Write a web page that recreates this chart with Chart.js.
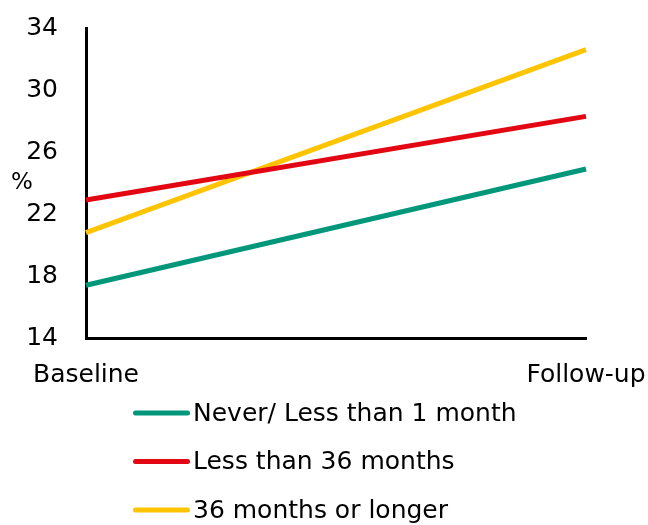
<!DOCTYPE html>
<html>
<head>
<meta charset="utf-8">
<script src="https://cdn.jsdelivr.net/npm/chart.js@4.4.0/dist/chart.umd.min.js"></script>
<style>
  html, body { margin: 0; padding: 0; background: #fff; }
  #wrap { width: 648px; height: 525px; }
</style>
</head>
<body>
<div id="wrap"><canvas id="c" width="648" height="525"></canvas></div>
<script>
// Time points on the x axis
const categories = ['Baseline', 'Follow-up'];

// Series names and values (%)
const seriesNames = ['Never/ Less than 1 month', 'Less than 36 months', '36 months or longer'];
const neverLess1 = [17.4, 24.9];
const less36 = [22.9, 28.3];
const over36 = [20.8, 32.6];

// Y axis ticks and unit
const yTicks = [14, 18, 22, 26, 30, 34];
const yUnit = '%';

const seriesColors = ['#00977A', '#E30613', '#FFC400'];
const FONT = '"DejaVu Sans", sans-serif';

// Vertical legend below the axes: short line swatch followed by the label
const seriesLegend = {
  id: 'seriesLegend',
  afterDraw(chart) {
    const ctx = chart.ctx;
    const x0 = 133, x1 = 190, textX = 193, firstRow = 413, rowStep = 48.5;
    chart.data.datasets.forEach((ds, i) => {
      const y = firstRow + i * rowStep;
      ctx.save();
      ctx.strokeStyle = ds.borderColor;
      ctx.lineWidth = 5;
      ctx.lineCap = 'round';
      ctx.beginPath();
      ctx.moveTo(x0 + 2.5, y);
      ctx.lineTo(x1 - 2.5, y);
      ctx.stroke();
      ctx.fillStyle = '#000';
      ctx.font = '25px ' + FONT;
      ctx.textAlign = 'left';
      ctx.textBaseline = 'middle';
      ctx.fillText(ds.label, textX, y + 1);
      ctx.restore();
    });
  }
};

// Unit label written horizontally beside the y axis
const unitLabel = {
  id: 'unitLabel',
  afterDraw(chart) {
    const ctx = chart.ctx;
    const ys = chart.scales.y;
    const mid = (ys.min + ys.max) / 2;
    ctx.save();
    ctx.fillStyle = '#000';
    ctx.font = '23px ' + FONT;
    ctx.textAlign = 'center';
    ctx.textBaseline = 'middle';
    ctx.fillText(yUnit, 22, ys.getPixelForValue(mid));
    ctx.restore();
  }
};

new Chart(document.getElementById('c'), {
  type: 'line',
  data: {
    labels: categories,
    datasets: [
      { label: seriesNames[0], data: neverLess1, borderColor: seriesColors[0] },
      { label: seriesNames[1], data: less36, borderColor: seriesColors[1] },
      { label: seriesNames[2], data: over36, borderColor: seriesColors[2] }
    ].map(d => Object.assign(d, {
      backgroundColor: d.borderColor,
      borderWidth: 5,
      pointRadius: 0,
      pointHoverRadius: 0,
      tension: 0,
      fill: false
    }))
  },
  options: {
    responsive: false,
    animation: false,
    events: [],
    layout: { padding: { left: 0, right: 62, top: 28, bottom: 127 } },
    plugins: {
      legend: { display: false },
      tooltip: { enabled: false }
    },
    scales: {
      x: {
        type: 'category',
        offset: false,
        grid: { display: false, drawTicks: false },
        border: { display: true, color: '#000', width: 3 },
        ticks: {
          color: '#000',
          font: { family: FONT, size: 25 },
          padding: 22,
          maxRotation: 0,
          autoSkip: false
        },
        afterFit(scale) {
          scale.height = 60;
          scale.paddingLeft = 0;
          scale.paddingRight = 0;
        }
      },
      y: {
        min: yTicks[0],
        max: yTicks[yTicks.length - 1],
        grid: { display: false, drawTicks: false },
        border: { display: true, color: '#000', width: 3 },
        ticks: {
          color: '#000',
          font: { family: FONT, size: 25 },
          padding: 28
        },
        afterBuildTicks(scale) { scale.ticks = yTicks.map(v => ({ value: v })); },
        afterFit(scale) {
          scale.width = 86;
          scale.paddingTop = 0;
          scale.paddingBottom = 0;
        }
      }
    }
  },
  plugins: [seriesLegend, unitLabel]
});
</script>
</body>
</html>
